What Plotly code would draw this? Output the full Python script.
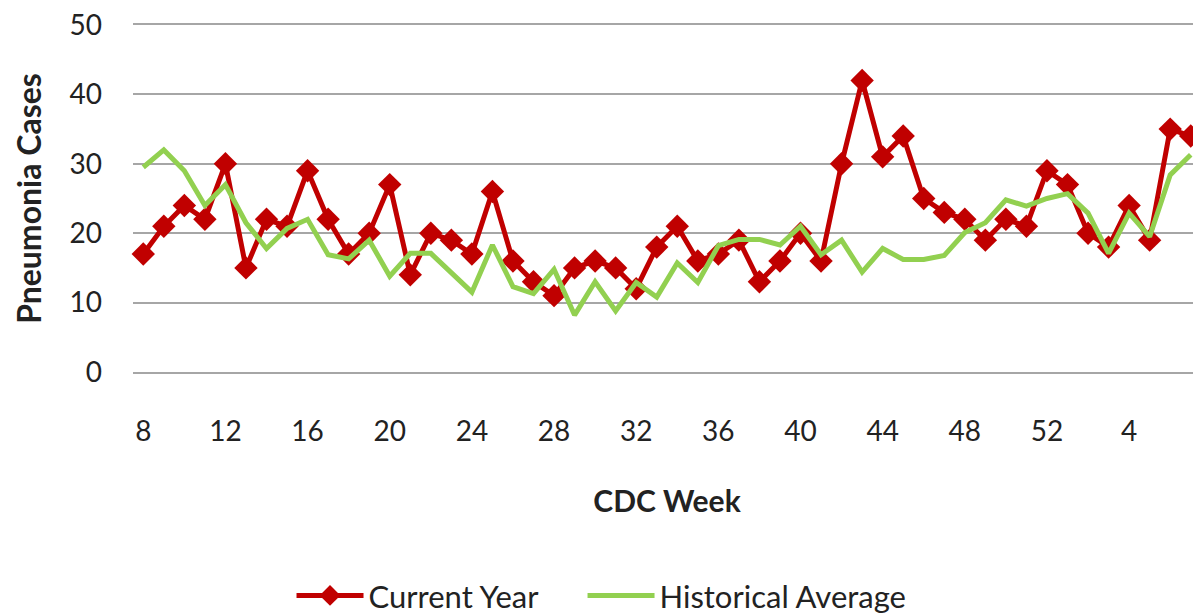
import plotly.graph_objects as go

weeks = [str(w) for w in range(8, 53)] + [str(w) for w in range(1, 8)]
current_year = [17, 21, 24, 22, 30, 15, 22, 21, 29, 22, 17, 20, 27, 14, 20, 19, 17, 26,
                16, 13, 11, 15, 16, 15, 12, 18, 21, 16, 17, 19, 13, 16, 20, 16, 30, 42,
                31, 34, 25, 23, 22, 19, 22, 21, 29, 27, 20, 18, 24, 19, 35, 34]
historical_avg = [29.5, 32, 29, 24, 27, 21.5, 17.8, 20.7, 22, 16.9, 16.3, 19, 13.8, 17.1,
                  17.1, 14.2, 11.5, 18.3, 12.3, 11.3, 14.8, 8.2, 13, 8.8, 12.9, 10.8, 15.7,
                  12.9, 18.2, 19.1, 19.1, 18.3, 21, 16.9, 19, 14.4, 17.8, 16.2, 16.2, 16.8,
                  20.1, 21.5, 24.8, 23.9, 25, 25.7, 22.9, 17.1, 22.9, 19.5, 28.4, 31.3]
tick_labels = weeks[::4]
y_ticks = [0, 10, 20, 30, 40, 50]

FONT = "Lato"
GRID = "#A6A6A6"
NBSP = "\u00a0"

fig = go.Figure()
fig.add_trace(go.Scatter(
    x=weeks, y=current_year, name="Current Year" + NBSP * 5, mode="lines+markers",
    line=dict(color="#C00000", width=5),
    marker=dict(symbol="diamond", size=18, color="#C00000"),
    cliponaxis=False,
))
fig.add_trace(go.Scatter(
    x=weeks, y=historical_avg, name="Historical Average", mode="lines",
    line=dict(color="#92D050", width=5),
    cliponaxis=False,
))

# page body has an 8px default margin, so the figure is sized to fit inside it
fig.update_layout(
    width=1193, height=606,
    margin=dict(l=125, r=0, t=17, b=242, autoexpand=False),
    plot_bgcolor="white", paper_bgcolor="white",
    font=dict(family=FONT, size=28, color="#222222"),
    showlegend=True,
    legend=dict(
        orientation="h", xref="container", yref="container",
        x=0.4975, xanchor="center", y=0.03, yanchor="middle",
        font=dict(size=31, color="#222222"),
        itemwidth=67, tracegroupgap=0,
    ),
    xaxis=dict(
        type="category", categoryorder="array", categoryarray=weeks,
        range=[-0.5, len(weeks) - 0.5],
        tickmode="array", tickvals=tick_labels, ticktext=tick_labels,
        showgrid=False, zeroline=False,
        showline=True, linecolor=GRID, linewidth=2, mirror=True,
        ticks="", ticklabelstandoff=33,
        title=dict(text="<b>CDC Week</b>", standoff=45, font=dict(size=30)),
    ),
    yaxis=dict(
        range=[0, 50], tickvals=y_ticks,
        showgrid=True, gridcolor=GRID, gridwidth=2,
        zeroline=False, showline=False, ticks="",
        ticklabelstandoff=30, ticklabeloverflow="allow",
        title=dict(text="<b>Pneumonia Cases</b>", standoff=18, font=dict(size=32)),
    ),
)

fig.write_html("out.html")
